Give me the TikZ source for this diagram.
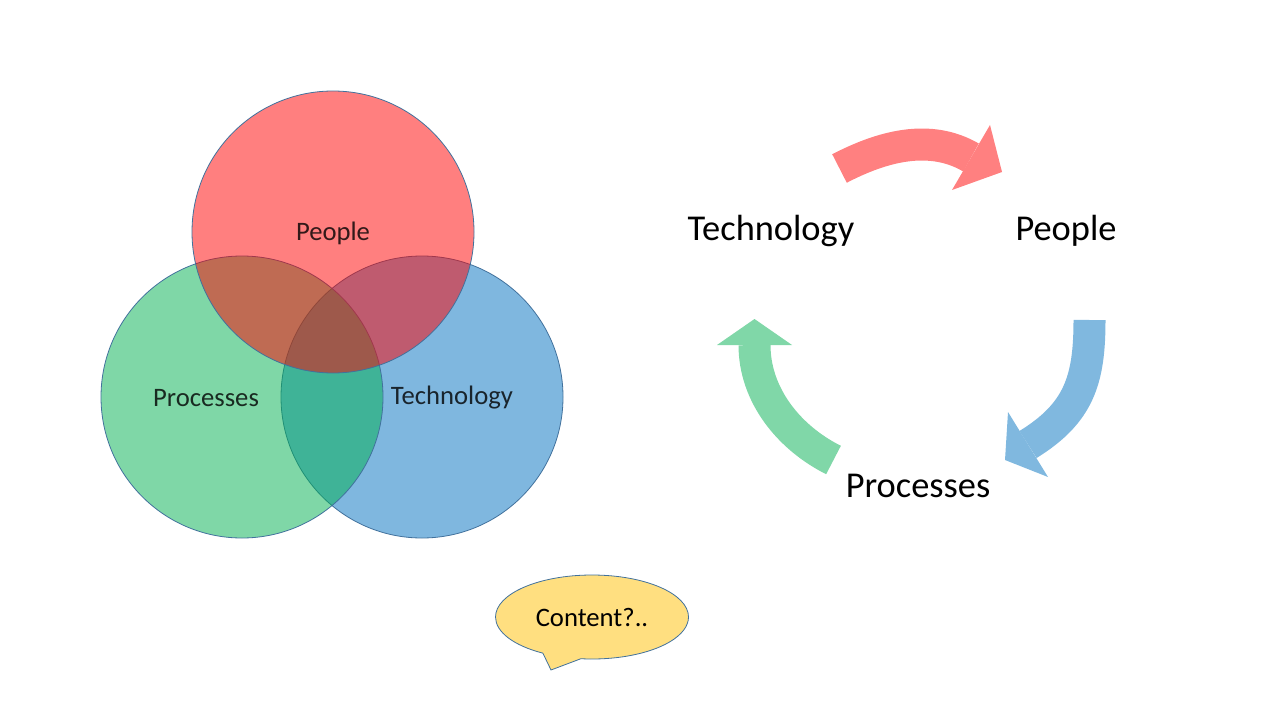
\documentclass[tikz,border=0pt]{standalone}
\usepackage{fontspec}
\setmainfont{Carlito}
\usetikzlibrary{shapes.callouts}

\definecolor{peoplered}{HTML}{FF0000}
\definecolor{procgreen}{HTML}{00B050}
\definecolor{techblue}{HTML}{0070C0}
\definecolor{callgold}{HTML}{FFC000}
\definecolor{edgeblue}{HTML}{41719C}

\tikzset{
    vennset/.style={circle, draw=edgeblue, line width=0.6pt, fill opacity=0.5,
        minimum size=211.5pt, inner sep=0pt},
    vennlabel/.style={font=\fontsize{20}{24}\selectfont, text opacity=0.8},
    cyclelabel/.style={font=\fontsize{27.3}{32}\selectfont},
    cyclebody/.style={line width=24pt, line cap=butt},
}

\begin{document}
\begin{tikzpicture}[x=0.75pt, y=-0.75pt]
            \useasboundingbox (0,0) rectangle (1280,720);
            % venn diagram
            \foreach \name/\col/\x/\y in {tech/techblue/422/397, proc/procgreen/242/397, people/peoplered/333/232} {
                \node[vennset, fill=\col] (\name) at (\x, \y) {};
            }
            \node[vennlabel] (peoplelbl) at (333, 233) {People};
            \node[vennlabel] (proclbl) at (206, 398) {Processes};
            \node[vennlabel] (techlbl) at (452, 398) {Technology};

            % cycle
            \node[cyclelabel] (ctech) at (771, 231) {Technology};
            \node[cyclelabel] (cpeople) at (1066, 231) {People};
            \node[cyclelabel] (cproc) at (918, 486) {Processes};

            % red arrow, technology -> people
            \coordinate (rs) at (839.5, 168.5);
            \coordinate (re) at (971, 157.5);
            \draw[cyclebody, peoplered!50] (rs) .. controls (882, 146.4) and (929.6, 133.3) .. (re);
            \fill[peoplered!50] (990, 125) -- (1002, 172) -- (952, 190) -- cycle;
            % blue arrow, people -> processes
            \coordinate (bs) at (1089.5, 320);
            \coordinate (be) at (1028, 444.5);
            \draw[cyclebody, techblue!50] (bs) .. controls (1089.5, 380) and (1079, 413) .. (be);
            \fill[techblue!50] (1008, 412) -- (1005, 460) -- (1048, 477) -- cycle;
            % green arrow, processes -> technology
            \coordinate (gs) at (833.5, 460);
            \coordinate (ge) at (754.5, 345);
            \draw[cyclebody, procgreen!50] (gs) .. controls (788.8, 437.6) and (754.5, 395) .. (ge);
            \fill[procgreen!50] (717, 345) -- (754.5, 319) -- (792, 345) -- cycle;

            % callout
            \node[ellipse callout, draw=edgeblue, line width=0.6pt, fill=callgold!50,
                minimum width=144.75pt, minimum height=63pt, inner sep=0pt,
                callout absolute pointer={(551, 670)}, callout pointer arc=24,
                font=\fontsize{20}{24}\selectfont] (content) at (592, 617) {Content?..};
        \end{tikzpicture}
\end{document}
